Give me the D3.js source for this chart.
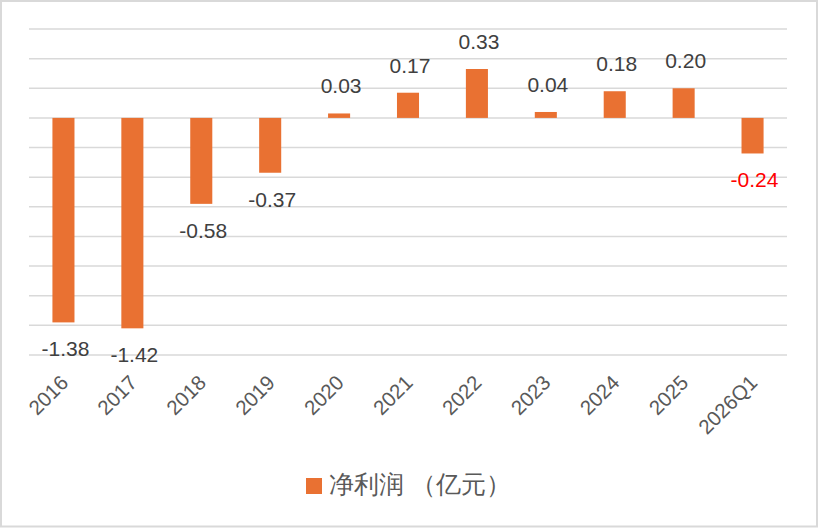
<!DOCTYPE html>
<html>
<head>
<meta charset="utf-8">
<script src="https://cdn.jsdelivr.net/npm/d3@7"></script>
<style>
  body { margin: 0; background: #fff; }
  text { font-family: "Liberation Sans", Arial, sans-serif; }
</style>
</head>
<body>
<div id="canvas"></div>
<script>
"use strict"
let svgWidth = 818;
let svgHeight = 528;

// chart data
let categories = ["2016", "2017", "2018", "2019", "2020", "2021", "2022", "2023", "2024", "2025", "2026Q1"];
let profit = [-1.38, -1.42, -0.58, -0.37, 0.03, 0.17, 0.33, 0.04, 0.18, 0.20, -0.24];
let gridTicks = [0.6, 0.4, 0.2, 0, -0.2, -0.4, -0.6, -0.8, -1.0, -1.2, -1.4, -1.6];
let seriesName = "净利润 （亿元）";

let plotLeft = 29;
let plotRight = 787;
let plotTop = 29;
let plotBottom = 355;
let barColor = "#E97132";

let svg = d3.select("#canvas")
    .append("svg")
    .attr("width", svgWidth)
    .attr("height", svgHeight);

// outer frame
svg.append("rect")
    .attr("x", 1)
    .attr("y", 1)
    .attr("width", svgWidth - 2)
    .attr("height", svgHeight - 2.5)
    .attr("fill", "white")
    .attr("stroke", "#d9d9d9")
    .attr("stroke-width", 2);

let xScale = d3.scaleBand()
    .domain(categories)
    .range([plotLeft, plotRight])
    .paddingInner(0.68)
    .paddingOuter(0.34);

let yScale = d3.scaleLinear()
    .domain([-1.6, 0.6])
    .range([plotBottom, plotTop]);

// gridlines
svg.selectAll("line.grid")
    .data(gridTicks)
    .join("line")
    .attr("class", "grid")
    .attr("x1", plotLeft)
    .attr("x2", plotRight)
    .attr("y1", d => yScale(d))
    .attr("y2", d => yScale(d))
    .attr("stroke", "#d9d9d9")
    .attr("stroke-width", 1.5);

let rows = categories.map((c, i) => ({ cat: c, value: profit[i] }));

// bars
svg.selectAll("rect.bar")
    .data(rows)
    .join("rect")
    .attr("class", "bar")
    .attr("x", d => xScale(d.cat))
    .attr("width", xScale.bandwidth())
    .attr("y", d => yScale(Math.max(0, d.value)))
    .attr("height", d => Math.abs(yScale(d.value) - yScale(0)))
    .attr("fill", barColor);

// value labels
svg.selectAll("text.value")
    .data(rows)
    .join("text")
    .attr("class", "value")
    .attr("x", d => xScale(d.cat) + xScale.bandwidth() / 2 + 2)
    .attr("y", d => d.value >= 0 ? yScale(d.value) - 20 : yScale(d.value) + 34)
    .attr("text-anchor", "middle")
    .attr("font-size", 21)
    .attr("fill", d => d.cat == "2026Q1" ? "#FF0000" : "#404040")
    .text(d => d.value.toFixed(2));

// category labels, rotated
svg.selectAll("text.cat")
    .data(categories)
    .join("text")
    .attr("class", "cat")
    .attr("transform", d => "translate(" + (xScale(d) + xScale.bandwidth() / 2 + 6) + "," + 384 + ") rotate(-45)")
    .attr("text-anchor", "end")
    .attr("font-size", 20.5)
    .attr("fill", "#595959")
    .text(d => d);

// legend
svg.append("rect")
    .attr("x", 306)
    .attr("y", 478)
    .attr("width", 16)
    .attr("height", 16)
    .attr("fill", barColor);

svg.append("text")
    .attr("x", 329)
    .attr("y", 486)
    .attr("dominant-baseline", "middle")
    .attr("font-size", 25)
    .attr("font-family", "'Noto Sans CJK SC', sans-serif")
    .attr("fill", "#595959")
    .text(seriesName);
</script>
</body>
</html>
